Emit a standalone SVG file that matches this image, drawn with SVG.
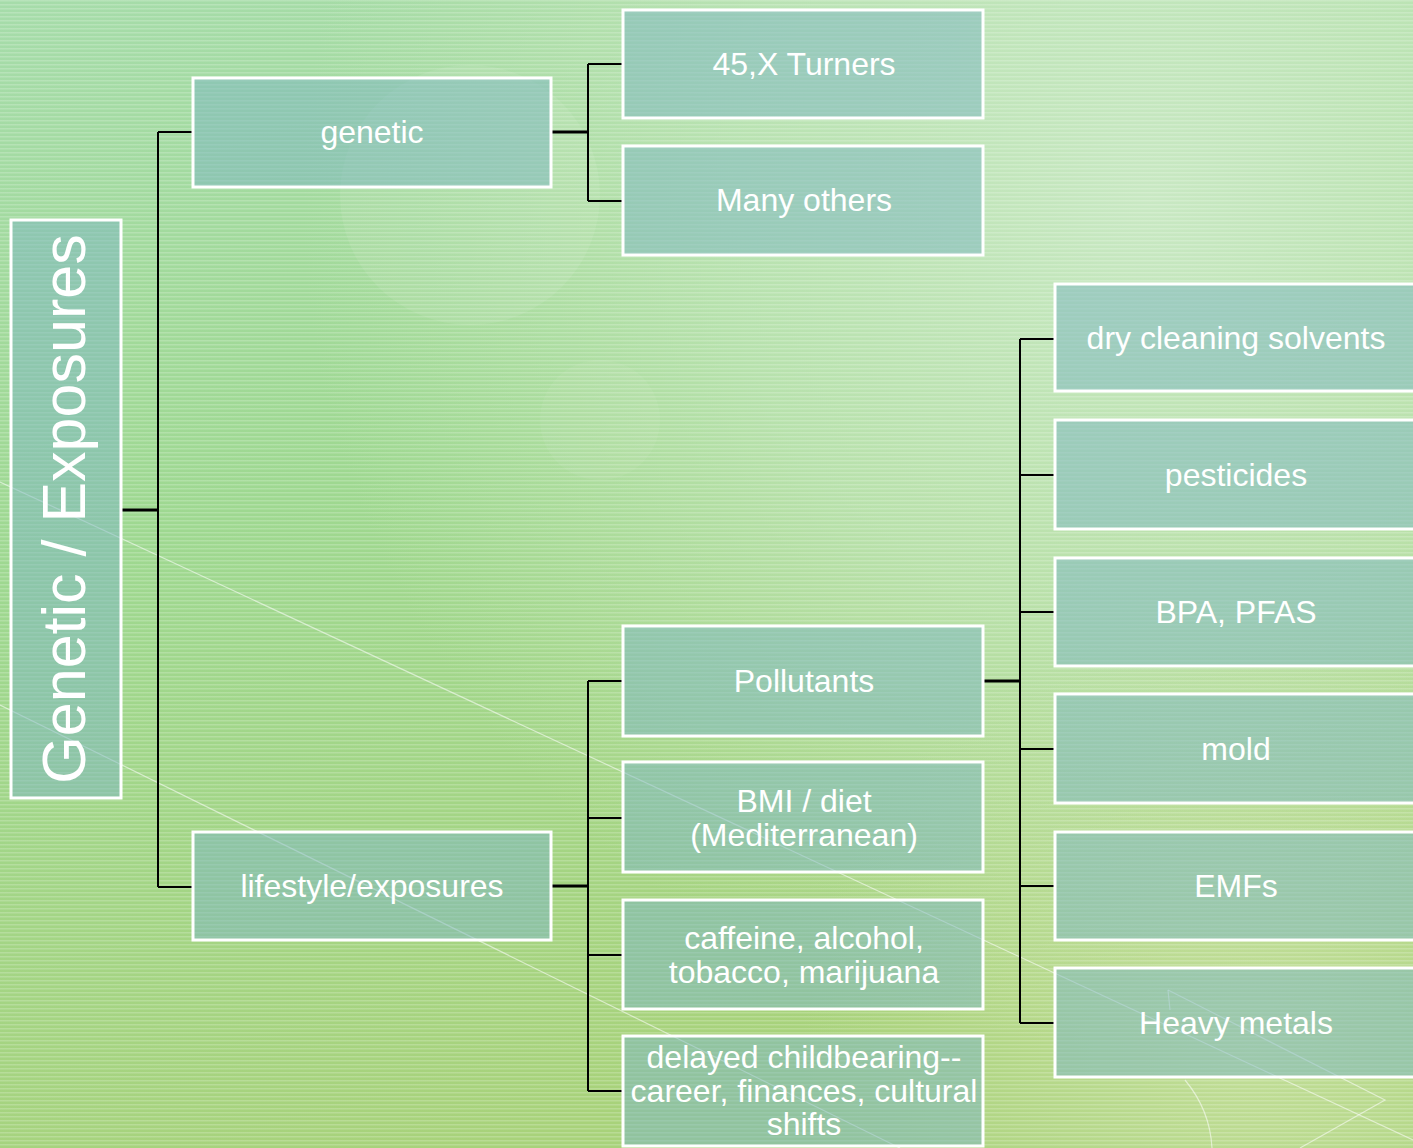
<svg xmlns="http://www.w3.org/2000/svg" width="1413" height="1148" viewBox="0 0 1413 1148">
<defs>
<linearGradient id="bg" x1="0" y1="0" x2="0.35" y2="1">
<stop offset="0" stop-color="#a6dcaa"/>
<stop offset="0.45" stop-color="#9ed890"/>
<stop offset="1" stop-color="#a8d27a"/>
</linearGradient>
<radialGradient id="hl" cx="1150" cy="200" r="850" gradientUnits="userSpaceOnUse">
<stop offset="0" stop-color="#cdeac8" stop-opacity="0.9"/>
<stop offset="0.5" stop-color="#c8e8c0" stop-opacity="0.6"/>
<stop offset="1" stop-color="#c8e6b8" stop-opacity="0"/>
</radialGradient>
<radialGradient id="hl2" cx="1250" cy="1050" r="450" gradientUnits="userSpaceOnUse">
<stop offset="0" stop-color="#d0e4a8" stop-opacity="0.6"/>
<stop offset="1" stop-color="#d0e4a8" stop-opacity="0"/>
</radialGradient>
<pattern id="stripes" width="8" height="4" patternUnits="userSpaceOnUse">
<rect x="0" y="0" width="8" height="1.5" fill="#ffffff" fill-opacity="0.2"/>
</pattern>
</defs>
<style>
.box{fill:#7cb6c0;fill-opacity:0.52;stroke:#ffffff;stroke-width:3}
.lbl{font-family:"Liberation Sans",Arial,sans-serif;font-size:32px;fill:#ffffff;text-anchor:middle}
.con{stroke:#000000;stroke-width:2;fill:none}
.conb{stroke:#000000;stroke-width:3;fill:none}
.deco{stroke:#ffffff;stroke-opacity:0.55;stroke-width:1.2;fill:none}
</style>
<rect x="0" y="0" width="1413" height="1148" fill="url(#bg)"/>
<rect x="0" y="0" width="1413" height="1148" fill="url(#hl)"/>
<rect x="0" y="0" width="1413" height="1148" fill="url(#hl2)"/>
<g id="background-deco">
<circle cx="470" cy="195" r="130" fill="#ffffff" fill-opacity="0.08"/>
<circle cx="600" cy="420" r="60" fill="#ffffff" fill-opacity="0.05"/>
<line class="deco" x1="0" y1="482" x2="1413" y2="1140"/>
<line class="deco" x1="0" y1="705" x2="900" y2="1148"/>
<path class="deco" d="M1168 990 L1385 1100 L1300 1148"/>
<path class="deco" d="M1168 990 L1170 1010"/>
<path class="deco" d="M1185 1080 Q1210 1110 1212 1148"/>
</g>
<rect x="0" y="0" width="1413" height="1148" fill="url(#stripes)"/>

<g id="connectors">
<path class="conb" d="M121 510 H158"/>
<path class="con" d="M158 132 V887 M158 132 H193 M158 887 H193"/>
<path class="conb" d="M551 132 H588"/>
<path class="con" d="M588 64 V201 M588 64 H623 M588 201 H623"/>
<path class="conb" d="M551 886 H588"/>
<path class="con" d="M588 681 V1091 M588 681 H623 M588 818 H623 M588 955 H623 M588 1091 H623"/>
<path class="conb" d="M983 681 H1020"/>
<path class="con" d="M1020 339 V1023 M1020 339 H1055 M1020 475 H1055 M1020 612 H1055 M1020 749 H1055 M1020 886 H1055 M1020 1023 H1055"/>
</g>

<g id="node-root">
<rect class="box" x="11" y="220" width="110" height="578"/>
<text class="lbl" style="font-size:61px" transform="translate(85 509) rotate(-90)" x="0" y="0">Genetic / Exposures</text>
</g>
<g id="node-genetic">
<rect class="box" x="193" y="78" width="358" height="109"/>
<text class="lbl" x="372" y="143">genetic</text>
</g>
<g id="node-lifestyle">
<rect class="box" x="193" y="832" width="358" height="108"/>
<text class="lbl" x="372" y="897">lifestyle/exposures</text>
</g>
<g id="node-turners">
<rect class="box" x="623" y="10" width="360" height="108"/>
<text class="lbl" x="804" y="75">45,X Turners</text>
</g>
<g id="node-many">
<rect class="box" x="623" y="146" width="360" height="109"/>
<text class="lbl" x="804" y="211">Many others</text>
</g>
<g id="node-pollutants">
<rect class="box" x="623" y="626" width="360" height="110"/>
<text class="lbl" x="804" y="692">Pollutants</text>
</g>
<g id="node-bmi">
<rect class="box" x="623" y="762" width="360" height="110"/>
<text class="lbl" x="804" y="812">BMI / diet</text>
<text class="lbl" x="804" y="846">(Mediterranean)</text>
</g>
<g id="node-caffeine">
<rect class="box" x="623" y="900" width="360" height="109"/>
<text class="lbl" x="804" y="949">caffeine, alcohol,</text>
<text class="lbl" x="804" y="983">tobacco, marijuana</text>
</g>
<g id="node-delayed">
<rect class="box" x="623" y="1036" width="360" height="110"/>
<text class="lbl" x="804" y="1068">delayed childbearing--</text>
<text class="lbl" x="804" y="1102">career, finances, cultural</text>
<text class="lbl" x="804" y="1135">shifts</text>
</g>
<g id="node-dry">
<rect class="box" x="1055" y="284" width="370" height="107"/>
<text class="lbl" x="1236" y="349">dry cleaning solvents</text>
</g>
<g id="node-pesticides">
<rect class="box" x="1055" y="420" width="370" height="109"/>
<text class="lbl" x="1236" y="486">pesticides</text>
</g>
<g id="node-bpa">
<rect class="box" x="1055" y="558" width="370" height="108"/>
<text class="lbl" x="1236" y="623">BPA, PFAS</text>
</g>
<g id="node-mold">
<rect class="box" x="1055" y="694" width="370" height="109"/>
<text class="lbl" x="1236" y="760">mold</text>
</g>
<g id="node-emfs">
<rect class="box" x="1055" y="832" width="370" height="108"/>
<text class="lbl" x="1236" y="897">EMFs</text>
</g>
<g id="node-heavy">
<rect class="box" x="1055" y="968" width="370" height="109"/>
<text class="lbl" x="1236" y="1034">Heavy metals</text>
</g>
</svg>
